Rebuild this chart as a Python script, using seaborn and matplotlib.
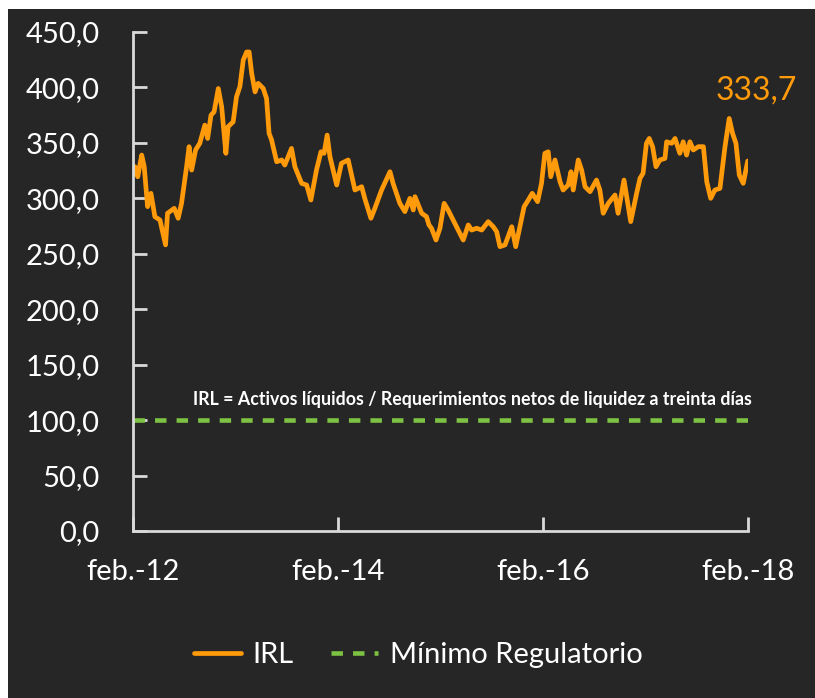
import matplotlib
matplotlib.use("Agg")
import matplotlib.pyplot as plt
import seaborn as sns
import pandas as pd
from matplotlib.patches import Rectangle

# ---------------- data ----------------
dates = [
    "2012-02-02", "2012-02-08", "2012-02-18", "2012-03-03", "2012-03-12", "2012-03-24",
    "2012-04-05", "2012-04-19", "2012-05-07", "2012-05-27", "2012-06-03", "2012-06-27",
    "2012-07-11", "2012-07-23", "2012-08-10", "2012-08-19", "2012-08-28", "2012-09-11",
    "2012-09-26", "2012-10-14", "2012-10-24", "2012-11-05", "2012-11-16", "2012-12-01",
    "2012-12-13", "2012-12-28", "2013-01-05", "2013-01-23", "2013-02-04", "2013-02-16",
    "2013-02-28", "2013-03-12", "2013-03-21", "2013-03-30", "2013-04-11", "2013-04-22",
    "2013-05-10", "2013-05-22", "2013-05-31", "2013-06-09", "2013-06-27", "2013-07-15",
    "2013-07-26", "2013-08-19", "2013-08-31", "2013-09-24", "2013-10-12", "2013-10-27",
    "2013-11-16", "2013-12-02", "2013-12-13", "2013-12-24", "2014-01-03", "2014-01-27",
    "2014-02-13", "2014-03-09", "2014-04-02", "2014-04-26", "2014-05-07", "2014-05-29",
    "2014-06-12", "2014-07-06", "2014-08-05", "2014-08-16", "2014-09-09", "2014-09-27",
    "2014-10-15", "2014-10-27", "2014-11-02", "2014-11-26", "2014-12-13", "2014-12-22",
    "2014-12-31", "2015-01-16", "2015-01-30", "2015-02-14", "2015-02-28", "2015-03-18",
    "2015-04-05", "2015-04-23", "2015-05-11", "2015-05-23", "2015-06-10", "2015-06-28",
    "2015-07-21", "2015-08-08", "2015-08-20", "2015-09-01", "2015-09-19", "2015-10-13",
    "2015-10-27", "2015-11-11", "2015-11-26", "2015-12-11", "2015-12-25", "2016-01-13",
    "2016-01-27", "2016-02-08", "2016-02-20", "2016-02-29", "2016-03-15", "2016-04-02",
    "2016-04-13", "2016-05-01", "2016-05-11", "2016-05-19", "2016-06-06", "2016-06-18",
    "2016-06-30", "2016-07-18", "2016-08-10", "2016-08-22", "2016-09-03", "2016-09-21",
    "2016-10-15", "2016-10-26", "2016-11-16", "2016-12-10", "2016-12-31", "2017-01-12",
    "2017-01-23", "2017-02-04", "2017-02-14", "2017-02-26", "2017-03-10", "2017-03-24",
    "2017-04-11", "2017-04-17", "2017-05-05", "2017-05-17", "2017-06-03", "2017-06-15",
    "2017-06-27", "2017-07-09", "2017-07-21", "2017-08-08", "2017-08-26", "2017-09-07",
    "2017-09-21", "2017-10-06", "2017-10-24", "2017-11-11", "2017-11-26", "2017-12-08",
    "2017-12-20", "2018-01-01", "2018-01-15", "2018-01-31",
]
irl = [
    322.6, 328.5, 319.5, 339.0, 328.5, 292.5,
    304.5, 283.4, 280.5, 258.0, 286.5, 291.0,
    282.0, 295.5, 328.5, 346.6, 325.5, 343.6,
    349.6, 366.0, 354.0, 375.0, 378.0, 399.0,
    382.6, 340.6, 364.6, 369.0, 391.7, 400.7,
    424.7, 432.0, 432.0, 412.7, 396.0, 403.7,
    399.2, 390.0, 358.6, 352.6, 333.0, 334.6,
    330.0, 345.0, 328.5, 313.5, 312.0, 298.5,
    325.5, 342.0, 340.6, 357.0, 337.5, 312.0,
    331.6, 334.6, 307.5, 310.5, 300.0, 282.0,
    291.0, 307.5, 324.0, 313.5, 295.5, 288.0,
    300.0, 289.5, 301.5, 286.5, 283.5, 276.0,
    273.0, 262.4, 273.0, 295.5, 289.5, 280.5,
    271.4, 262.4, 276.0, 271.4, 273.0, 271.4,
    279.0, 274.4, 270.0, 256.4, 258.0, 274.4,
    256.4, 274.4, 292.5, 298.5, 304.5, 297.0,
    313.5, 340.6, 342.0, 319.5, 334.6, 315.0,
    307.5, 312.0, 324.0, 307.5, 334.6, 325.5,
    310.5, 306.0, 316.5, 307.5, 286.5, 295.5,
    303.0, 286.5, 316.5, 279.0, 304.5, 318.0,
    322.6, 349.6, 354.0, 346.6, 328.5, 334.6,
    336.0, 351.0, 349.6, 354.0, 340.6, 351.0,
    339.0, 351.0, 343.6, 346.6, 346.6, 315.0,
    300.0, 307.5, 309.0, 346.6, 372.0, 358.6,
    349.6, 321.0, 313.5, 333.7,
]
min_dates = ["2012-02-01", "2018-02-01"]
min_vals = [100, 100]

series_names = ["IRL", "Mínimo Regulatorio"]
yticks = [0, 50, 100, 150, 200, 250, 300, 350, 400, 450]
xtick_dates = ["2012-02-01", "2014-02-01", "2016-02-01", "2018-02-01"]
xtick_labels = ["feb.-12", "feb.-14", "feb.-16", "feb.-18"]
last_label = "333,7"
formula = "IRL = Activos líquidos / Requerimientos netos de liquidez a treinta días"

# ---------------- style ----------------
sns.set_theme(style="ticks")
plt.rcParams['font.family'] = ['Lato', 'DejaVu Sans']

ORANGE = "#FF9A0A"
GREEN = "#7DC242"
BG = "#262626"
SPINE = "#D9D9D9"

fig = plt.figure(figsize=(8.15, 6.98), dpi=100, facecolor="white")
fig.patches.append(Rectangle((8 / 815, 0), 1, 1 - 9 / 698, transform=fig.transFigure,
                             facecolor=BG, edgecolor="none", zorder=-10))
ax = fig.add_axes([133 / 815, 1 - 531 / 698, 615 / 815, (531 - 32) / 698])
ax.set_facecolor("none")

df = pd.DataFrame({"fecha": pd.to_datetime(dates), "valor": irl})
dm = pd.DataFrame({"fecha": pd.to_datetime(min_dates), "valor": min_vals})

sns.lineplot(data=df, x="fecha", y="valor", ax=ax, color=ORANGE, lw=3.4,
             label=series_names[0], solid_joinstyle="round")
sns.lineplot(data=dm, x="fecha", y="valor", ax=ax, color=GREEN, lw=3.3,
             linestyle=(0, (2.5, 2.2)), label=series_names[1])

ax.set_xlim(pd.Timestamp(xtick_dates[0]), pd.Timestamp(xtick_dates[-1]))
ax.set_ylim(yticks[0], yticks[-1])
ax.set_xticks(pd.to_datetime(xtick_dates))
ax.set_xticklabels(xtick_labels)
ax.set_yticks(yticks)
ax.set_yticklabels([f"{v:.1f}".replace(".", ",") for v in yticks])
ax.set_xlabel("")
ax.set_ylabel("")
ax.grid(False)

for s in ["top", "right"]:
    ax.spines[s].set_visible(False)
for s in ["left", "bottom"]:
    ax.spines[s].set_color(SPINE)
    ax.spines[s].set_linewidth(2)

ax.tick_params(axis="both", direction="in", length=10, width=2, color=SPINE,
               labelcolor="white", labelsize=21)
ax.tick_params(axis="y", pad=24)
ax.tick_params(axis="x", pad=20)

# formula note
ax.text(1.006, 119, formula, transform=ax.get_yaxis_transform(), ha="right", va="center",
        color="white", fontsize=12.8, fontweight="bold")

# last value label
ax.annotate(last_label, xy=(df["fecha"].iloc[-1], irl[-1]), xytext=(6.5, 51),
            textcoords="offset points", ha="center", va="center",
            color=ORANGE, fontsize=23)

handles, labels = ax.get_legend_handles_labels()
ax.get_legend().remove()
fig.legend(handles, labels, loc="center", bbox_to_anchor=(0.513, 1 - 655 / 698), ncol=2,
           frameon=False, fontsize=21, labelcolor="white", handlelength=1.6,
           handletextpad=0.4, columnspacing=1.3)

fig.savefig("out.png", dpi=100, facecolor=fig.get_facecolor())
